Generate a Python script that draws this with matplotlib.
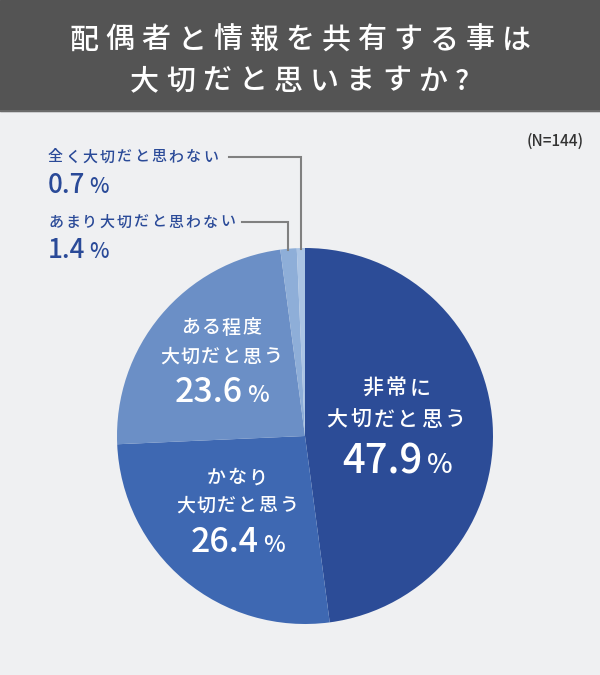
import numpy as np
import matplotlib
matplotlib.use("Agg")
import matplotlib.pyplot as plt
from matplotlib.patches import Rectangle

plt.rcParams['font.family'] = ['Noto Sans CJK JP', 'DejaVu Sans']

"DATA"
labels = ["非常に\n大切だと思う", "かなり\n大切だと思う", "ある程度\n大切だと思う",
          "あまり大切だと思わない", "全く大切だと思わない"]
values = [47.9, 26.4, 23.6, 1.4, 0.7]
colors = ["#2c4c97", "#3e68b2", "#6b8fc6", "#8eaed8", "#abc4e4"]
title_lines = ["配偶者と情報を共有する事は", "大切だと思いますか?"]
n_note = "(N=144)"

BG = "#eff0f2"
BLUE = "#2a4a98"

fig = plt.figure(figsize=(6, 6.75), dpi=100, facecolor=BG)

# pie, center (305, 436) px, radius 188 px
cx, cy, r = 305, 436, 188
ax = fig.add_axes([(cx - r) / 600, (675 - cy - r) / 675, 2 * r / 600, 2 * r / 675])
wedges, _ = ax.pie(values, colors=colors, startangle=90, counterclock=False,
                   radius=1, wedgeprops=dict(linewidth=0))
ax.set_xlim(-1, 1)
ax.set_ylim(-1, 1)
ax.axis('off')

# overlay in pixel coordinates
ov = fig.add_axes([0, 0, 1, 1])
ov.set_xlim(0, 600)
ov.set_ylim(675, 0)
ov.axis('off')

ov.add_patch(Rectangle((0, 0), 600, 111, color="#545454", zorder=0))
ov.plot([0, 600], [111, 111], color="#6a6a6a", lw=1.5)


def jtext(x, y, s, em, track, color, ha='center', weight='medium'):
    """places full-width text char by char so tracking can be added"""
    widths = [em if ord(c) > 0x2000 else em * 0.55 for c in s]
    total = sum(widths) + track * (len(s) - 1)
    x0 = x - total / 2 if ha == 'center' else x
    for c, w in zip(s, widths):
        ov.text(x0 + w / 2, y, c, ha='center', va='center', color=color,
                fontsize=em * 0.72, fontweight=weight)
        x0 += w + track


def pct(x, y, v, em, color, ha='left', pscale=0.68, gap=4):
    num = f"{v}"
    t = ov.text(x, y, num, ha='left', va='baseline', color=color,
                fontsize=em * 0.72, fontweight='medium')
    fig.canvas.draw()
    w = t.get_window_extent().width
    pw = em * pscale * 0.85
    if ha == 'center':
        shift = (w + gap + pw) / 2
        x = x - shift
        t.set_x(x)
    ov.text(x + w + gap, y, "%", ha='left', va='baseline', color=color,
            fontsize=em * pscale * 0.72, fontweight='medium')


# title
jtext(300, 40, title_lines[0], 29, 7, "white")
jtext(300, 81, title_lines[1], 29, 7, "white")

ov.text(584, 141, n_note, ha='right', va='center', color="#333333",
        fontsize=11, fontweight='medium')

# inside labels
inner = [(396, 388, 420, 473, 21, 2.6, 40),
         (237, 478, 506, 552, 19, 1.5, 34),
         (221, 328, 357, 402, 19, 1.5, 34)]
for i, (x, y1, y2, yb, em, tr, nem) in enumerate(inner):
    l1, l2 = labels[i].split("\n")
    jtext(x, y1, l1, em, tr, "white")
    jtext(x, y2, l2, em, tr, "white")
    pct(x, yb, values[i], nem, "white", ha='center')

# outside labels with leader lines
outer = [(3, 222, 258, 242), (4, 157, 193, 229)]
for i, y1, yb, xend in outer:
    jtext(48, y1, labels[i], 15, 2.2, BLUE, ha='left')
    pct(48, yb, values[i], 26, BLUE, pscale=0.8, gap=4)
    w = wedges[i]
    ang = np.deg2rad((w.theta1 + w.theta2) / 2)
    xr = cx + r * np.cos(ang)
    yr = cy - r * np.sin(ang)
    ov.plot([xend, xr, xr], [y1, y1, yr + 1], color="#808080", lw=1.5,
            solid_joinstyle='miter')

fig.savefig("out.png", dpi=100, facecolor=BG)
